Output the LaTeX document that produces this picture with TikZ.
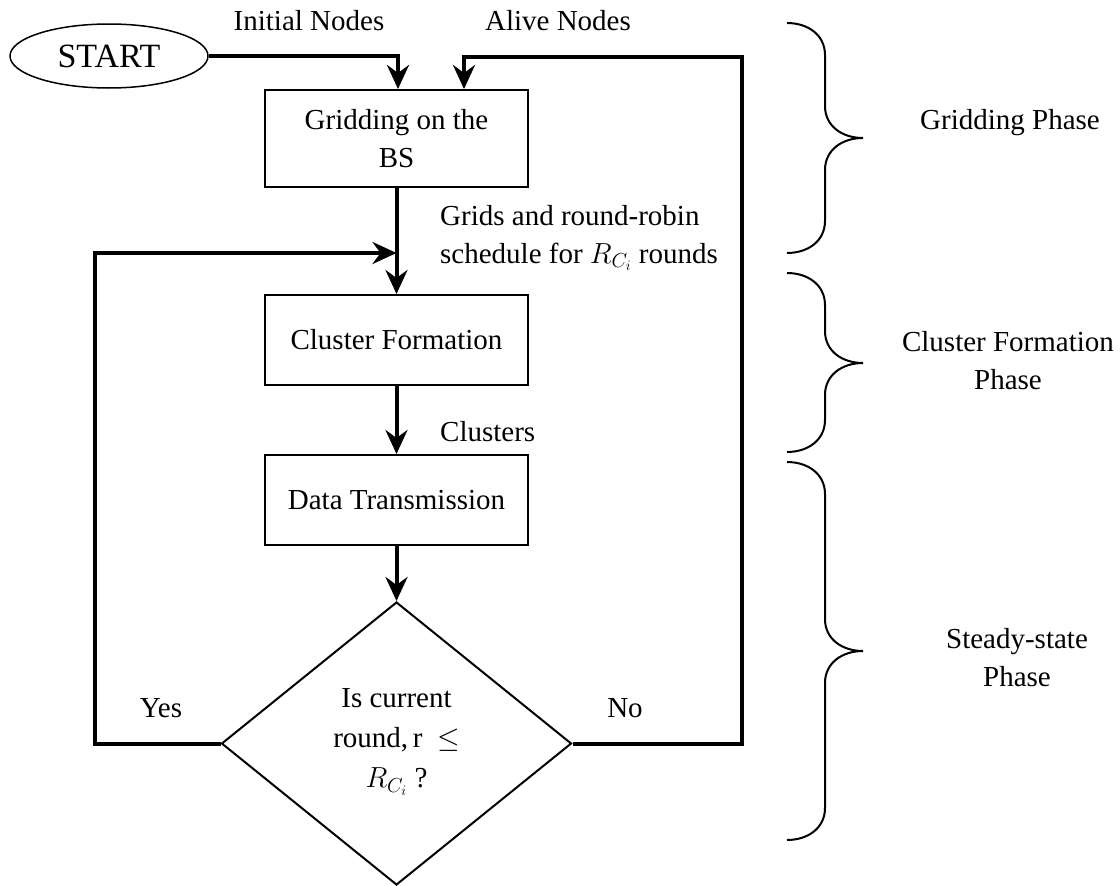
\documentclass[tikz,border=0pt]{standalone}
\usepackage{fix-cm}
\usepackage{fontspec}
\setmainfont{Liberation Serif}
\usetikzlibrary{shapes.geometric,arrows.meta}

% curly brace beside a phase: top, tip, bottom (y values)
\newcommand\phasebrace[3]{%
  \draw[bracestroke] (787,#1) .. controls (808,#1) and (825,#1+12) .. (825,#1+32)
    -- (825,#2-32) .. controls (825,#2-12) and (842,#2) .. (863,#2)
    .. controls (842,#2) and (825,#2+12) .. (825,#2+32)
    -- (825,#3-32) .. controls (825,#3-12) and (808,#3) .. (787,#3);}

\begin{document}
\begin{tikzpicture}[x=1pt,y=-1pt,
  every node/.style={font=\fontsize{29}{38}\selectfont},
  box/.style={draw,line width=2pt,minimum width=263pt,minimum height=90pt,inner sep=0pt,align=center},
  flow/.style={line width=4pt,-{Stealth[length=24pt,width=22pt,inset=8pt]}},
  bracestroke/.style={line width=2pt},
  lbl/.style={inner sep=0pt,align=center}]
\useasboundingbox (0,0) rectangle (1120,886);

% process steps
\node[draw,ellipse,line width=1.5pt,minimum width=198pt,minimum height=64pt,inner sep=0pt,
      font=\fontsize{34}{40}\selectfont] (start) at (109,56) {START};
\node[box,minimum height=97pt] (grid) at (396.5,138.5) {Gridding on the\\BS};
\node[box] (clus) at (396.5,340) {Cluster Formation};
\node[box] (data) at (396.5,500) {Data Transmission};
\node[draw,diamond,line width=2pt,minimum width=350pt,minimum height=283pt,inner sep=0pt] (dec) at (396.5,743.5) {};
\node[lbl,font=\fontsize{29}{40}\selectfont] (dectext) at (396.5,742) {Is current\\round,\,r\enspace$\leq$\\$R_{C_i}$ ?};

% bend points of the connectors
\coordinate (j1) at (398,56);
\coordinate (rc) at (742,57);
\coordinate (ra) at (464,57);
\coordinate (lc) at (95,253);
\coordinate (lj) at (396.5,253);

% connectors
\draw[flow] (start.east) -- (j1) -- (grid.north -| j1);
\draw[flow] (dec.east) -- (dec.east -| rc) -- (rc) -- (ra) -- (grid.north -| ra);
\draw[flow] (dec.west) -- (dec.west -| lc) -- (lc) -- (lj);
\draw[flow] (grid.south) -- (clus.north);
\draw[flow] (clus.south) -- (data.north);
\draw[flow] (data.south) -- (dec.north);

% connector labels
\node[lbl] (initlbl) at (309,21) {Initial Nodes};
\node[lbl] (alivelbl) at (558,21) {Alive Nodes};
\node[lbl,anchor=west,align=left] (gridslbl) at (440,238) {Grids and round-robin\\schedule for $R_{C_i}$ rounds};
\node[lbl,anchor=west] (cluslbl) at (440,432) {Clusters};
\node[lbl] (yeslbl) at (161,708) {Yes};
\node[lbl] (nolbl) at (625,708) {No};

% phases
\phasebrace{23}{138}{253}
\phasebrace{273}{363}{452}
\phasebrace{462}{651}{840}
\node[lbl] (ph1) at (1010,123) {Gridding Phase};
\node[lbl] (ph2) at (1008,361) {Cluster Formation\\Phase};
\node[lbl] (ph3) at (1017,658) {Steady-state\\Phase};
\end{tikzpicture}
\end{document}
